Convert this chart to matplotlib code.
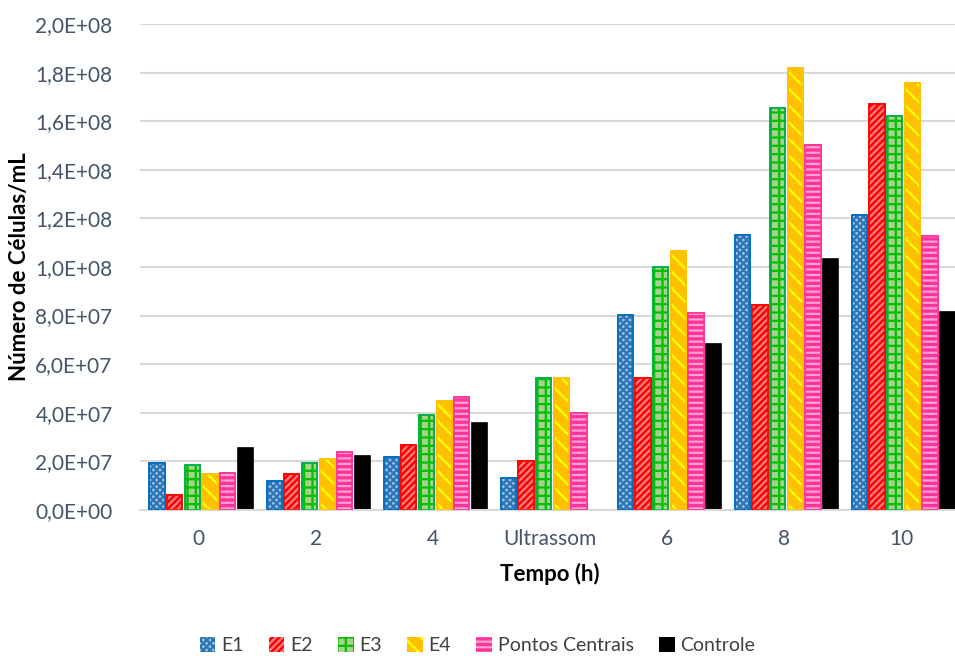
import numpy as np
import matplotlib
matplotlib.use("Agg")
import matplotlib.pyplot as plt
from matplotlib.patches import Patch
from matplotlib.ticker import FuncFormatter, MultipleLocator

# cell counts per condition (cells/mL) at each sampling time
TEMPOS = ["0", "2", "4", "Ultrassom", "6", "8", "10"]
E1 = [1.95e7, 1.18e7, 2.18e7, 1.32e7, 8.02e7, 1.132e8, 1.213e8]
E2 = [6.2e6, 1.49e7, 2.69e7, 2.00e7, 5.42e7, 8.42e7, 1.672e8]
E3 = [1.84e7, 1.93e7, 3.90e7, 5.43e7, 1.001e8, 1.653e8, 1.621e8]
E4 = [1.48e7, 2.10e7, 4.49e7, 5.43e7, 1.065e8, 1.819e8, 1.758e8]
PONTOS_CENTRAIS = [1.52e7, 2.37e7, 4.65e7, 3.99e7, 8.12e7, 1.501e8, 1.129e8]
CONTROLE = [2.54e7, 2.23e7, 3.58e7, np.nan, 6.84e7, 1.032e8, 8.15e7]

SERIES = [
    # label, values, face, edge, hatch colour, hatch
    ("E1", E1, "#9DC3E6", "#0070C0", "#2E75B6", "xxxxx"),
    ("E2", E2, "#FF0000", "#FF0000", "#FF8080", "/////"),
    ("E3", E3, "#A9D18E", "#00B050", "#00C000", "++"),
    ("E4", E4, "#FFC000", "#FFC000", "#FFFF00", "\\\\"),
    ("Pontos Centrais", PONTOS_CENTRAIS, "#FF3399", "#FF3399", "#FFA3D1", "---"),
    ("Controle", CONTROLE, "#000000", "#000000", None, None),
]

plt.rcParams.update({"font.family": ["Lato", "DejaVu Sans"],
                     "hatch.linewidth": 1.6})

fig = plt.figure(figsize=(9.55, 6.56), dpi=100)
ax = fig.add_axes([0.147, 0.2226, 0.858, 0.7408])

x = np.arange(len(TEMPOS))
slot = 0.151
width = 0.13
handles = []
for i, (lab, vals, face, edge, hcol, hatch) in enumerate(SERIES):
    pos = x + (i - 2.5) * slot + 0.02
    ax.bar(pos, vals, width, color=face, edgecolor=edge, linewidth=1.2, zorder=2)
    if hatch:
        ax.bar(pos, vals, width, color="none", edgecolor=hcol, hatch=hatch,
               linewidth=0, zorder=3)
        ax.bar(pos, vals, width, color="none", edgecolor=edge, linewidth=1.2,
               zorder=4)
    handles.append(Patch(facecolor=face, edgecolor=hcol or edge, hatch=hatch,
                         linewidth=0, label=lab))

ax.set_xlim(-0.5, len(TEMPOS) - 0.5)
ax.set_ylim(0, 2.0e8)
ax.yaxis.set_major_locator(MultipleLocator(2e7))
ax.yaxis.set_major_formatter(FuncFormatter(lambda v, _: f"{v:.1E}".replace(".", ",")))
ax.set_xticks(x, TEMPOS)
ax.grid(axis="y", color="#D9D9D9", linewidth=1.5, zorder=0)
ax.set_axisbelow(True)
for s in ["top", "right", "left"]:
    ax.spines[s].set_visible(False)
ax.spines["bottom"].set_color("#D9D9D9")
ax.spines["bottom"].set_linewidth(1.5)
ax.tick_params(length=0, labelsize=15, labelcolor="#44546A")
ax.tick_params(axis="x", pad=14)
ax.tick_params(axis="y", pad=20)

ax.set_ylabel("Número de Células/mL", fontsize=16, fontweight="bold", labelpad=4)
ax.set_xlabel("Tempo (h)", fontsize=16, fontweight="bold", labelpad=10)

fig.legend(handles=handles, loc="lower center", bbox_to_anchor=(0.5, -0.024),
           ncol=6, frameon=False, fontsize=14, handlelength=0.8,
           handleheight=0.8, handletextpad=0.3, columnspacing=1.3,
           labelcolor="#404040")

fig.savefig("out.png", dpi=100)
